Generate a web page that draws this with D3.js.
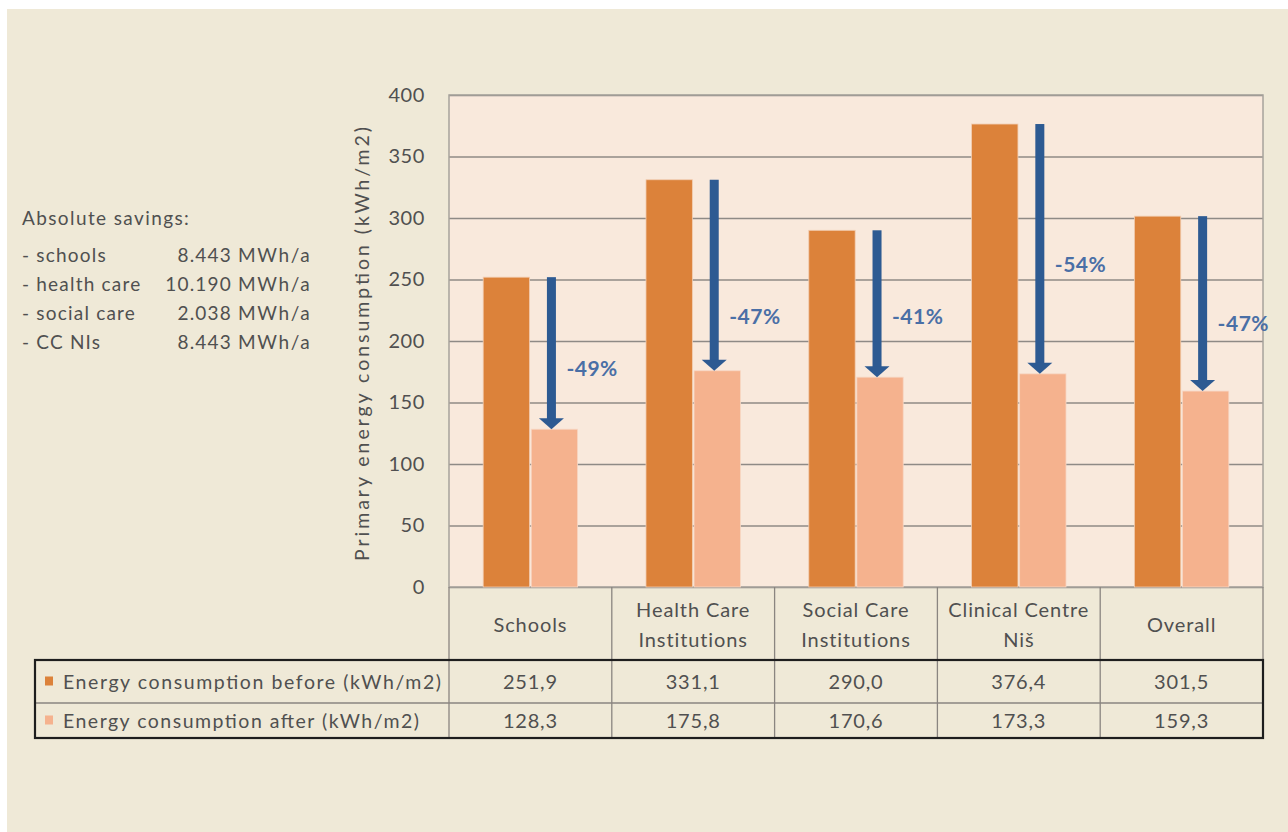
<!DOCTYPE html>
<html>
<head>
<meta charset="utf-8">
<script src="https://cdn.jsdelivr.net/npm/d3@7"></script>
<style>
  html, body { margin: 0; padding: 0; background: #ffffff; }
  svg { display: block; font-family: Lato, "Open Sans", sans-serif; }
</style>
</head>
<body>
<svg id="chart" width="1288" height="832"></svg>
<script>
// Primary energy consumption per building type, before and after retrofit
const categories = ["Schools", "Health Care Institutions", "Social Care Institutions", "Clinical Centre Niš", "Overall"];
const categoryLines = [["Schools"], ["Health Care", "Institutions"], ["Social Care", "Institutions"], ["Clinical Centre", "Niš"], ["Overall"]];
const before = [251.9, 331.1, 290.0, 376.4, 301.5];
const after = [128.3, 175.8, 170.6, 173.3, 159.3];
const savingsPct = ["-49%", "-47%", "-41%", "-54%", "-47%"];
const pctLabelAt = [178, 220, 220, 262, 214];   // value level where each % label sits
const yTicks = [0, 50, 100, 150, 200, 250, 300, 350, 400];
const seriesNames = ["Energy consumption before (kWh/m2)", "Energy consumption after (kWh/m2)"];
const savingsItems = ["- schools", "- health care", "- social care", "- CC NIs"];
const savingsValues = ["8.443", "10.190", "2.038", "8.443"];
const yTitle = "Primary energy consumption (kWh/m2)";

const C = {
  page: "#efe9d7",
  plot: "#f9e9dc",
  before: "#dc823a",
  after: "#f5b28e",
  arrow: "#2d5a92",
  pct: "#4a6fa6",
  text: "#505050",
  grid: "#8f8a86",
  tableLine: "#8a8580"
};

const svg = d3.select("#chart");
svg.append("rect").attr("x", 7).attr("y", 9).attr("width", 1281).attr("height", 823).attr("fill", C.page);

const plotL = 449, plotR = 1263, plotT = 95, plotB = 587;
const headB = 660, row1B = 703, row2B = 738, tableL = 35;

const x = d3.scaleBand().domain(categories).range([plotL, plotR]);
const y = d3.scaleLinear().domain([0, 400]).range([plotB, plotT]);
const sub = d3.scaleBand().domain(["before", "after"])
  .range([x.bandwidth() * 0.21, x.bandwidth() * 0.79]).paddingInner(0.035);

// plot background
svg.append("rect").attr("x", plotL).attr("y", plotT)
  .attr("width", plotR - plotL).attr("height", plotB - plotT).attr("fill", C.plot);

// horizontal gridlines
const grid = svg.append("g").attr("transform", `translate(${plotL},0)`)
  .call(d3.axisLeft(y).tickValues(yTicks).tickSize(-(plotR - plotL)).tickFormat(""));
grid.select(".domain").remove();
grid.selectAll("line").attr("stroke", C.grid).attr("stroke-width", 1.6);

// plot border
svg.append("rect").attr("x", plotL).attr("y", plotT)
  .attr("width", plotR - plotL).attr("height", plotB - plotT)
  .attr("fill", "none").attr("stroke", "#a7a29c").attr("stroke-width", 1.5);

// y-axis labels
const yAxis = svg.append("g").attr("transform", `translate(${plotL},0)`)
  .call(d3.axisLeft(y).tickValues(yTicks).tickSize(0).tickPadding(24));
yAxis.select(".domain").remove();
yAxis.selectAll("text").attr("fill", C.text).attr("font-size", 20)
  .attr("font-family", "Lato, sans-serif").attr("letter-spacing", 0.6);

// y-axis title
svg.append("text")
  .attr("transform", `translate(369,${(plotT + plotB) / 2 + 3}) rotate(-90)`)
  .attr("text-anchor", "middle").attr("fill", C.text).attr("font-size", 19.5)
  .attr("textLength", 434).attr("lengthAdjust", "spacing")
  .text(yTitle);

// bars
const groups = svg.append("g").selectAll("g").data(categories).join("g")
  .attr("transform", d => `translate(${x(d)},0)`);
groups.append("rect")
  .attr("x", sub("before")).attr("width", sub.bandwidth())
  .attr("y", (d, i) => y(before[i])).attr("height", (d, i) => y(0) - y(before[i]))
  .attr("fill", C.before).attr("stroke", "#f2cdb2").attr("stroke-width", 0.8);
groups.append("rect")
  .attr("x", sub("after")).attr("width", sub.bandwidth())
  .attr("y", (d, i) => y(after[i])).attr("height", (d, i) => y(0) - y(after[i]))
  .attr("fill", C.after).attr("stroke", "#f7d7c4").attr("stroke-width", 0.8);

// reduction arrows
const shaftW = 9, headW = 25, headH = 11;
groups.each(function (d, i) {
  const g = d3.select(this);
  const ax = sub("after") + sub.bandwidth() / 2 - 3;
  const yTop = y(before[i]), yTip = y(after[i]);
  g.append("rect").attr("x", ax - shaftW / 2).attr("y", yTop)
    .attr("width", shaftW).attr("height", yTip - headH - yTop + 1).attr("fill", C.arrow);
  g.append("path")
    .attr("d", `M${ax - headW / 2},${yTip - headH} L${ax + headW / 2},${yTip - headH} L${ax},${yTip} Z`)
    .attr("fill", C.arrow);
  g.append("text").attr("x", ax + 15).attr("y", y(pctLabelAt[i]))
    .attr("dy", "0.36em").attr("fill", C.pct).attr("font-size", 21).attr("font-weight", 700)
    .attr("letter-spacing", 0.5)
    .text(savingsPct[i]);
});

// category header row
const head = svg.append("g");
categories.forEach((c, i) => {
  const lines = categoryLines[i];
  const cx = x(c) + x.bandwidth() / 2;
  const cy = (plotB + headB) / 2 + 1;
  lines.forEach((ln, j) => {
    head.append("text").attr("x", cx)
      .attr("y", cy + (j - (lines.length - 1) / 2) * 30)
      .attr("dy", "0.36em").attr("text-anchor", "middle")
      .attr("fill", C.text).attr("font-size", 20).attr("letter-spacing", 0.9).text(ln);
  });
});

// table grid lines
const tl = svg.append("g").attr("stroke", C.tableLine).attr("stroke-width", 1.3);
[plotL, ...categories.map(c => x(c) + x.bandwidth())].forEach(xx => {
  tl.append("line").attr("x1", xx).attr("x2", xx).attr("y1", plotB).attr("y2", row2B);
});
tl.append("line").attr("x1", tableL).attr("x2", plotR).attr("y1", row1B).attr("y2", row1B);

// data rows with legend keys
const rows = [before, after];
const rowTop = [headB, row1B], rowBot = [row1B, row2B];
const keyColors = [C.before, C.after];
const nameWidths = [378, 356];
rows.forEach((vals, r) => {
  const cy = (rowTop[r] + rowBot[r]) / 2;
  svg.append("rect").attr("x", 45).attr("y", cy - 5).attr("width", 8).attr("height", 9)
    .attr("fill", keyColors[r]);
  svg.append("text").attr("x", 63).attr("y", cy).attr("dy", "0.36em")
    .attr("fill", C.text).attr("font-size", 19.5)
    .attr("textLength", nameWidths[r]).attr("lengthAdjust", "spacing").text(seriesNames[r]);
  vals.forEach((v, i) => {
    svg.append("text").attr("x", x(categories[i]) + x.bandwidth() / 2).attr("y", cy)
      .attr("dy", "0.36em").attr("text-anchor", "middle")
      .attr("fill", C.text).attr("font-size", 20).attr("letter-spacing", 0.8)
      .text(d3.format(".1f")(v).replace(".", ","));
  });
});

// outer border of the data rows
svg.append("rect").attr("x", tableL).attr("y", headB)
  .attr("width", plotR - tableL).attr("height", row2B - headB)
  .attr("fill", "none").attr("stroke", "#1e1e1e").attr("stroke-width", 2.2);

// absolute savings note
const note = svg.append("g").attr("fill", C.text).attr("font-size", 19).attr("letter-spacing", 1.2);
note.append("text").attr("x", 22).attr("y", 218).attr("dy", "0.36em")
  .attr("textLength", 168).attr("lengthAdjust", "spacing").text("Absolute savings:");
savingsItems.forEach((s, i) => {
  const yy = 255 + i * 29;
  note.append("text").attr("x", 22).attr("y", yy).attr("dy", "0.36em").text(s);
  note.append("text").attr("x", 232).attr("y", yy).attr("dy", "0.36em")
    .attr("text-anchor", "end").text(savingsValues[i]);
  note.append("text").attr("x", 238).attr("y", yy).attr("dy", "0.36em")
    .attr("textLength", 73).attr("lengthAdjust", "spacing").text("MWh/a");
});
</script>
</body>
</html>
